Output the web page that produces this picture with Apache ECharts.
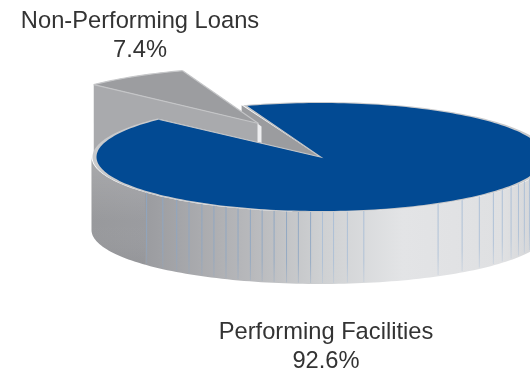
<!DOCTYPE html>
<html>
<head>
<meta charset="utf-8">
<style>html,body{margin:0;padding:0;background:#fff}#chart{width:530px;height:371px}</style>
<script src="https://cdn.jsdelivr.net/npm/echarts@6/dist/echarts.min.js"></script>
</head>
<body>
<div id="chart"></div>
<script>
// Loan quality split, percent of the portfolio
const categories = ['Non-Performing Loans', 'Performing Facilities'];
const shares = [7.4, 92.6];

// Disc projection
const CX = 320.5, CY = 157, RX = 224, RY = 54, DEPTH = 73;
const START_DEG = 224;               // where the first slice begins on the ellipse
const EXPLODE = [-62, -33.5];        // displacement of the pulled-out slice
const LABEL_POS = [[140, 21.5, 50.5], [326, 332, 361]];

// Seams of the side wall, as ellipse angles in degrees
const SEAMS = [140, 134, 129.3, 125.4, 121.5, 118, 114.6, 111.3, 108, 104.9, 101.8, 98.6, 95.6,
  92.5, 89.5, 86.7, 83.2, 79, 58.8, 51.4, 45.6, 40.4, 36.8, 32.9, 29.3, 26.1, 23];

const rad = d => d * Math.PI / 180;
const onRim = (deg, ox, oy, rx, ry) => [
  CX + ox + (rx || RX) * Math.cos(rad(deg)),
  CY + oy + (ry || RY) * Math.sin(rad(deg))
];
function arc(from, to, ox, oy, rx, ry) {
  const n = Math.max(2, Math.ceil(Math.abs(to - from) / 1.5));
  const pts = [];
  for (let i = 0; i <= n; i++) pts.push(onRim(from + (to - from) * i / n, ox, oy, rx, ry));
  return pts;
}
const poly = (points, fill, stroke, lineWidth) => ({
  type: 'polygon',
  shape: { points },
  style: { fill, stroke: stroke || null, lineWidth: lineWidth || 0, lineJoin: 'round' }
});
const line = (points, stroke, lineWidth) => ({
  type: 'polyline',
  shape: { points },
  style: { fill: null, stroke, lineWidth, lineCap: 'butt' }
});

function renderSlice(params, api) {
  const i = params.dataIndex;
  const total = shares.reduce((a, b) => a + b, 0);
  const before = shares.slice(0, i).reduce((a, b) => a + b, 0);
  const from = START_DEG + before / total * 360;
  const to = from + api.value(0) / total * 360;
  const children = [];

  if (i === 0) {
    // Cut face of the large slice, seen through the gap, sits behind the pulled-out slice
    const a = onRim(to - 0.7, 0, 0, RX + 6, RY + 1);
    children.push(poly([a, [CX, CY], [CX, CY + DEPTH], [a[0], a[1] + DEPTH]], '#9b9c9f'));

    const [ox, oy] = EXPLODE;
    const apex = [CX + ox, CY + oy];
    const r = RX + 5, ry = RY + 2;
    const c0 = onRim(from, ox, oy, r, ry);
    const c1 = onRim(to, ox, oy, r, ry);
    // Front wall, then the top face and its pale edges
    children.push(poly([c0, apex, [apex[0], apex[1] + DEPTH], [c0[0], c0[1] + DEPTH]], '#a9aaad'));
    children.push(poly([apex].concat(arc(from, to, ox, oy, r, ry)), '#9c9da0'));
    children.push(line(arc(from, to, ox, oy, r, ry), '#c6c7c9', 1.2));
    children.push(line([c0, apex], '#c4c5c7', 1.2));
    children.push(line([c1, apex], '#c4c5c7', 1.2));
    // Thin lit edge at the apex
    children.push(poly([
      [apex[0] - 1, apex[1]], [apex[0] + 3, apex[1] + 3],
      [apex[0] + 3, apex[1] + 19.5], [apex[0] - 1, apex[1] + 18.5]
    ], '#eeeef0'));
  } else {
    // Side wall across the visible front half
    const wallR = RX + 5;
    const wall = arc(0, 180, 0, 0, wallR, RY + 1)
      .concat(arc(180, 0, 0, DEPTH, wallR, RY));
    children.push(poly(wall, {
      type: 'linear', x: 0, y: 0, x2: 1, y2: 0,
      colorStops: [
        { offset: 0, color: '#98999c' },
        { offset: 0.12, color: '#9b9ca0' },
        { offset: 0.35, color: '#b8b9bc' },
        { offset: 0.5, color: '#ced0d2' },
        { offset: 0.68, color: '#e3e4e6' },
        { offset: 0.9, color: '#dfe0e2' },
        { offset: 1, color: '#d0d1d3' }
      ]
    }));
    // The unseamed left end shades downward
    const leftEnd = arc(180, 140, 0, 0, wallR, RY + 1).concat(arc(140, 180, 0, DEPTH, wallR, RY));
    children.push(poly(leftEnd, {
      type: 'linear', x: 0, y: 0, x2: 0, y2: 1,
      colorStops: [
        { offset: 0, color: 'rgba(255,255,255,0.16)' },
        { offset: 0.6, color: 'rgba(255,255,255,0)' },
        { offset: 1, color: 'rgba(0,0,0,0.04)' }
      ]
    }));
    SEAMS.forEach(deg => {
      const t = onRim(deg, 0, 0, RX + 3, RY + 1);
      const b = onRim(deg, 0, DEPTH, RX + 3, RY);
      const tone = deg > 90 ? '142,166,194' : '170,190,214';
      children.push(line([t, [b[0], b[1] - 1]], {
        type: 'linear', x: 0, y: 0, x2: 0, y2: 1,
        colorStops: [
          { offset: 0, color: 'rgba(' + tone + ',1)' },
          { offset: 0.7, color: 'rgba(' + tone + ',0.85)' },
          { offset: 1, color: 'rgba(' + tone + ',0.25)' }
        ]
      }, 1));
    });
    // Top face with its rim and lit cut edges
    const rim = [[CX, CY]].concat(arc(from - 0.5, to + 0.5, 0, 0, RX + 4, RY + 1));
    children.push(poly(rim, '#c9cacc'));
    const topFace = [[CX, CY]].concat(arc(from, to, 0, 0, RX, RY));
    children.push(poly(topFace, '#024a93'));
    children.push(line([onRim(from, 0, 0), [CX, CY], onRim(to, 0, 0)], '#c4c5c7', 1.2));
  }

  // Two-line label: name, then the share
  const [lx, y1, y2] = LABEL_POS[i];
  const font = '23.7px "Liberation Sans", Arial, sans-serif';
  [[categories[i], y1], [api.value(0).toFixed(1) + '%', y2]].forEach(([text, y]) => {
    children.push({
      type: 'text',
      style: { x: lx, y, text, fill: '#333333', font, textAlign: 'center', textVerticalAlign: 'middle' }
    });
  });
  return { type: 'group', children };
}

const chart = echarts.init(document.getElementById('chart'), null, { renderer: 'canvas' });
chart.setOption({
  animation: false,
  backgroundColor: '#ffffff',
  series: [{
    type: 'custom',
    coordinateSystem: 'none',
    renderItem: renderSlice,
    data: shares.map((v, i) => ({ name: categories[i], value: [v] })),
    silent: true,
    clip: false
  }]
});
</script>
</body>
</html>
